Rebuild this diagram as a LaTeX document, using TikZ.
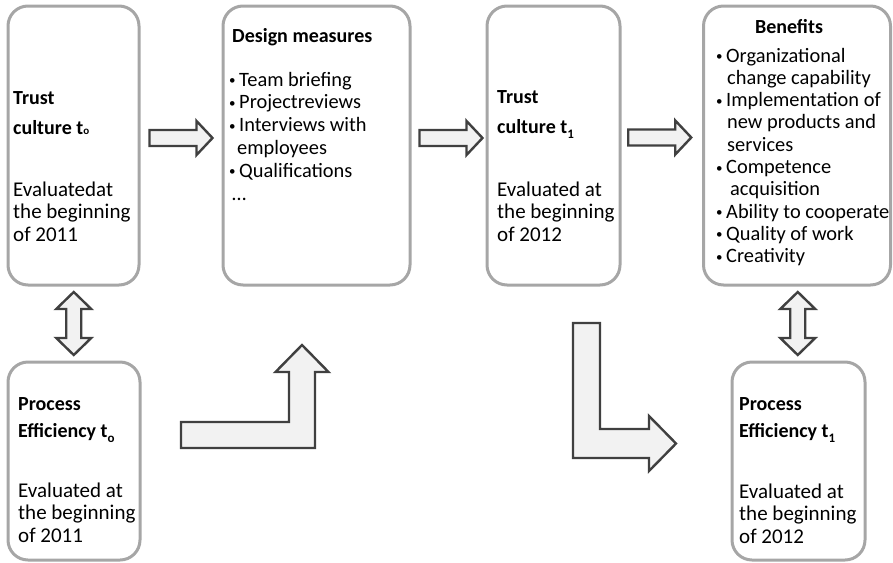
\documentclass[tikz,border=0pt]{standalone}
\usepackage{fontspec}
\setmainfont{Carlito}
\usetikzlibrary{calc}
\definecolor{boxgray}{HTML}{A6A6A6}
\definecolor{arrline}{HTML}{404040}
\definecolor{arrfill}{HTML}{F2F2F2}
\newcommand\mylines[1]{\begin{tabular}[t]{@{}l@{}}#1\end{tabular}}
\newcommand\bul{\makebox[10pt][l]{\raisebox{1.5pt}{\fontsize{13}{13}\selectfont •}}}
\newcommand\lowsub[1]{\raisebox{-5pt}{\fontsize{13}{13}\selectfont #1}}
\begin{document}
\begin{tikzpicture}[x=1pt,y=-1pt,
  box/.style={draw=boxgray, line width=3pt, rounded corners=20pt, inner sep=0pt},
  blockarrow/.style={draw=arrline, fill=arrfill, line width=2.4pt, line join=miter},
  lbl/.style={anchor=base west, inner sep=0pt, font=\fontsize{21}{22.6}\selectfont},
  lst/.style={anchor=base west, inner sep=0pt, font=\fontsize{20.4}{22.6}\selectfont},
  ttl/.style={anchor=base west, inner sep=0pt, font=\fontsize{20}{30}\selectfont\bfseries},
  ttlb/.style={anchor=base west, inner sep=0pt, font=\fontsize{20}{27}\selectfont\bfseries},
  rarrow/.pic={\draw[blockarrow] (-31.5,-8) -- (15.5,-8) -- (15.5,-17) -- (31.5,0) -- (15.5,17) -- (15.5,8) -- (-31.5,8) -- cycle;},
  varrow/.pic={\draw[blockarrow] (0,-31.5) -- (17.5,-14.5) -- (7.5,-14.5) -- (7.5,14.5) -- (17.5,14.5) -- (0,31.5) -- (-17.5,14.5) -- (-7.5,14.5) -- (-7.5,-14.5) -- (-17.5,-14.5) -- cycle;}
]
\useasboundingbox (0,0) rectangle (893,562);

% boxes
\node[box, minimum width=131pt, minimum height=279pt] (b1) at (73.5,145.5) {};
\node[box, minimum width=187pt, minimum height=279pt] (b2) at (316.5,145.5) {};
\node[box, minimum width=133pt, minimum height=279pt] (b3) at (553.5,145.5) {};
\node[box, minimum width=187pt, minimum height=279pt] (b4) at (797,145.5) {};
\node[box, minimum width=132pt, minimum height=198pt] (b5) at (74,461) {};
\node[box, minimum width=133pt, minimum height=198pt] (b6) at (798.5,461) {};

% texts box 1
\node[ttl] (t1) at (13,104) {\mylines{Trust\\culture t{\fontsize{11}{11}\selectfont o}}};
\node[lbl] (e1) at (13,196) {\mylines{Evaluatedat\\the beginning\\of 2011}};

% texts box 2
\node[ttl] (d0) at (232,42) {Design measures};
\node[lst, font=\fontsize{20.4}{22.8}\selectfont] (d1) at (229,86) {\mylines{\bul Team briefing\\ \bul Projectreviews\\ \bul Interviews with\\ \hspace{8pt}employees\\ \bul Qualifications\\ \hspace{3pt}…}};

% texts box 3
\node[ttl] (t3) at (497,103) {\mylines{Trust\\culture t\lowsub{1}}};
\node[lbl] (e3) at (497,196) {\mylines{Evaluated at\\the beginning\\of 2012}};

% texts box 4
\node[inner sep=0pt, anchor=base, font=\fontsize{20}{24}\selectfont\bfseries] (bt) at (789,33) {Benefits};
\node[lst, font=\fontsize{20.4}{22.3}\selectfont] (bl) at (716,62) {\mylines{\bul Organizational\\ \hspace{11pt}change capability\\ \bul Implementation of\\ \hspace{11pt}new products and\\ \hspace{11pt}services\\ \bul Competence\\ \hspace{14pt}acquisition\\ \bul Ability to cooperate\\ \bul Quality of work\\ \bul Creativity}};

% texts box 5
\node[ttlb] (p5) at (18,410) {\mylines{Process\\Efficiency t\lowsub{o}}};
\node[lbl] (e5) at (18,497) {\mylines{Evaluated at\\the beginning\\of 2011}};

% texts box 6
\node[ttlb] (p6) at (739,410) {\mylines{Process\\Efficiency t\lowsub{1}}};
\node[lbl] (e6) at (739,498) {\mylines{Evaluated at\\the beginning\\of 2012}};

% straight block arrows
\pic at ($(b1.east)!.5!(b2.west)+(0,-7.5)$) {rarrow};
\pic at ($(b2.east)!.5!(b3.west)+(2.5,-7.5)$) {rarrow};
\pic at ($(b3.east)!.5!(b4.west)+(-2,-8)$) {rarrow};
\pic at ($(b1.south)!.5!(b5.north)$) {varrow};
\pic at ($(b4.south)!.5!(b6.north)$) {varrow};

% bent block arrows
\draw[blockarrow] (181,422) -- (289,422) -- (289,372) -- (275.5,372) -- (302,345) -- (328.5,372) -- (315,372) -- (315,448) -- (181,448) -- cycle;
\draw[blockarrow] (573,323) -- (600,323) -- (600,429) -- (649,429) -- (649,416) -- (676,443.5) -- (649,471) -- (649,458) -- (573,458) -- cycle;
\end{tikzpicture}
\end{document}
